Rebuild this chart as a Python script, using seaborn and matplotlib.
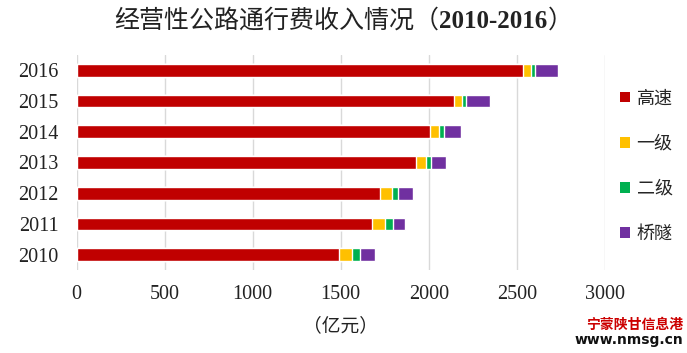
import matplotlib
matplotlib.use("Agg")
import matplotlib.pyplot as plt
import seaborn as sns
import pandas as pd
import numpy as np
from matplotlib.patches import Patch

years = ["2016", "2015", "2014", "2013", "2012", "2011", "2010"]
gaosu = [2536, 2142, 2007, 1926, 1723, 1680, 1490]
yiji = [43, 49, 53, 59, 69, 74, 72]
erji = [25, 21, 27, 28, 36, 41, 46]
qiaosui = [132, 134, 98, 84, 84, 70, 87]
series = ["高速", "一级", "二级", "桥隧"]
colors = ["#C00000", "#FFC000", "#00B050", "#7030A0"]
xticks = [0, 500, 1000, 1500, 2000, 2500, 3000]

sns.set_theme(style="white")
plt.rcParams['font.family'] = ['Liberation Serif', 'Noto Sans CJK SC', 'DejaVu Sans']

df = pd.DataFrame({"year": years, "高速": gaosu, "一级": yiji, "二级": erji, "桥隧": qiaosui})
cum = df[series].cumsum(axis=1)

fig = plt.figure(figsize=(6.87, 3.53), dpi=100)
ax = fig.add_axes([76.7 / 687, 1 - 270 / 353, 528 / 687, 215 / 353])

for s, c in reversed(list(zip(series, colors))):
    sns.barplot(x=cum[s], y=df["year"], orient="h", color=c, width=0.41,
                saturation=1, ax=ax, order=years, zorder=3)

ax.set_xlim(0, 3000)
ax.set_xticks(xticks)
ax.set_xticklabels([str(t) for t in xticks], fontsize=14.5, family='Liberation Serif')
ax.set_yticklabels(years, fontsize=14.5, family='Liberation Serif')
ax.tick_params(axis='x', length=0, pad=11, colors='#222222')
ax.tick_params(axis='y', length=0, pad=13, colors='#222222')
ax.set_ylabel("")
ax.set_xlabel("（亿元）", fontsize=13.5, family=['Noto Sans CJK SC'], labelpad=8, color='#222222')
ax.xaxis.grid(True, color="#D9D9D9", linewidth=1, zorder=0)
ax.yaxis.grid(False)
for sp in ax.spines.values():
    sp.set_visible(False)

handles = [Patch(facecolor=c, edgecolor='none', label=s) for s, c in zip(series, colors)]
fig.legend(handles=handles, loc='center left', bbox_to_anchor=(604 / 687, 1 - 166 / 353),
           frameon=False, prop={'family': 'Noto Sans CJK SC', 'size': 13},
           handlelength=0.55, handleheight=0.55, handletextpad=0.35, labelspacing=1.5)

# Title in three pieces: CJK regular, digits bold serif, closing paren
renderer = fig.canvas.get_renderer()
parts = [("经营性公路通行费收入情况（", ['Noto Sans CJK SC'], 'normal'),
         ("2010-2016", ['Liberation Serif'], 'bold'),
         ("）", ['Noto Sans CJK SC'], 'normal')]
ty = 1 - 21 / 353
texts = []
for txt, fam, wt in parts:
    t = fig.text(0, ty, txt, ha='left', va='center', fontsize=18, family=fam,
                 weight=wt, color='#222222')
    texts.append(t)
widths = [t.get_window_extent(renderer).width for t in texts]
total = sum(widths)
x0 = (687 - total) / 2
for t, w in zip(texts, widths):
    t.set_x(x0 / 687)
    x0 += w

fig.text(683 / 687, 1 - 325 / 353, "宁蒙陕甘信息港", ha='right', va='center', fontsize=10,
         family=['Noto Sans CJK SC'], weight='bold', color='#CC0000')
fig.text(683 / 687, 1 - 340 / 353, "www.nmsg.cn", ha='right', va='center', fontsize=10,
         family=['DejaVu Sans'], weight='bold', color='#111111')

fig.savefig("out.png", dpi=100)
